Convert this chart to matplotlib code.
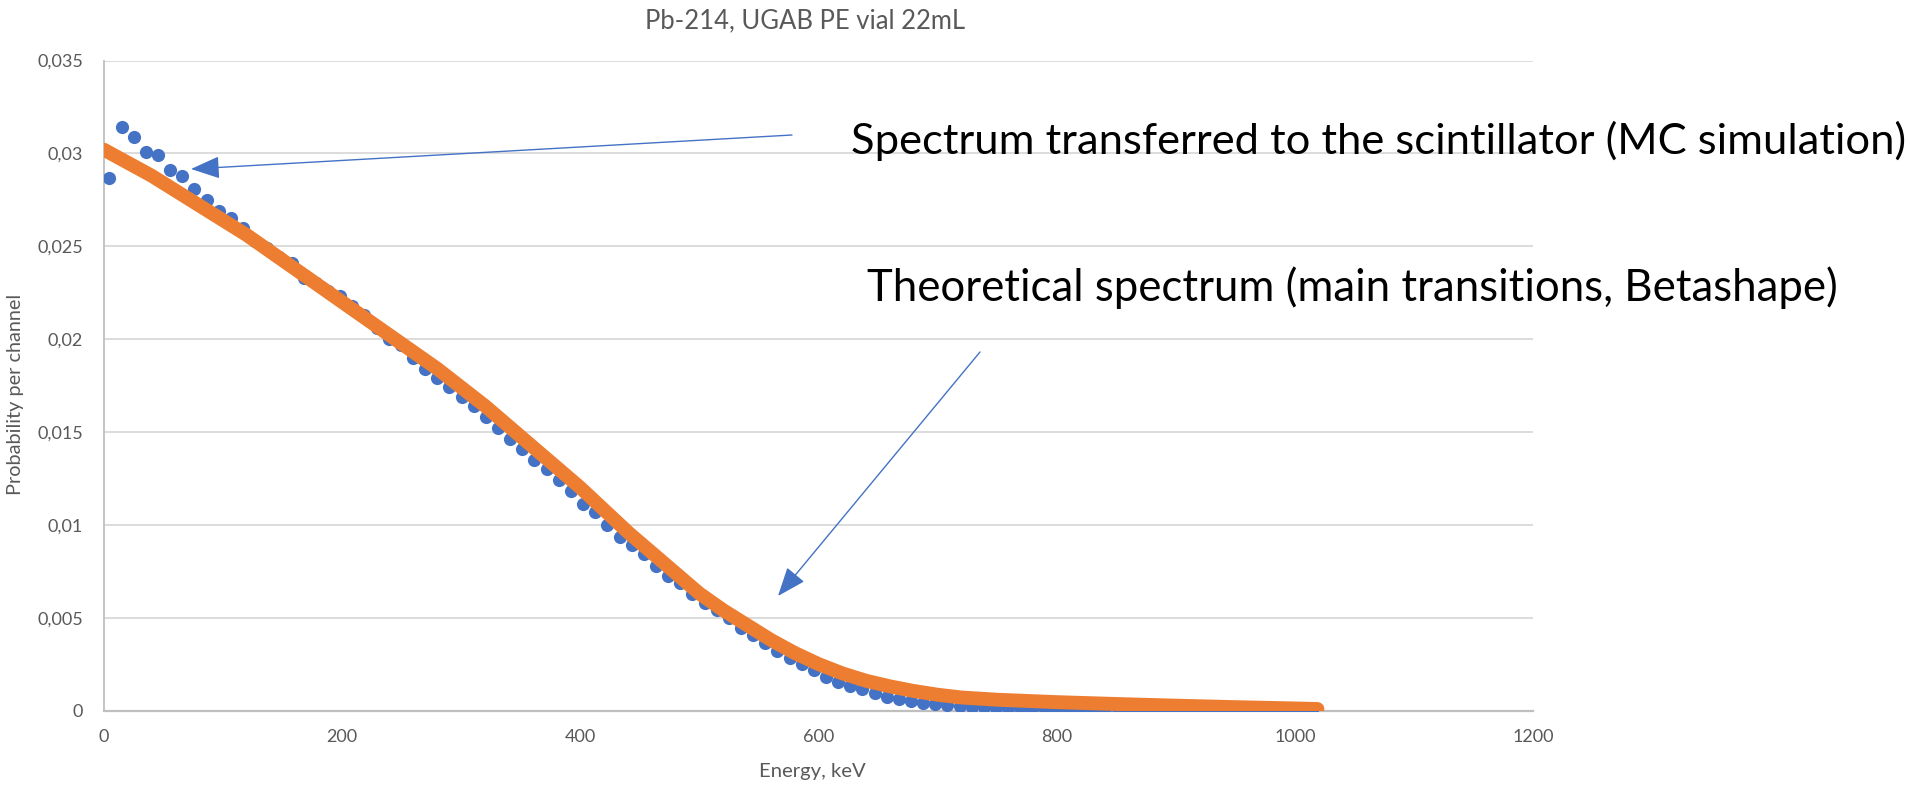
import matplotlib
matplotlib.use("Agg")
import matplotlib.pyplot as plt
from matplotlib.ticker import FuncFormatter, MultipleLocator
from matplotlib.patches import FancyArrowPatch

# ---------------- data ----------------
mc_energy = [4.5, 14.7, 24.9, 35.1, 45.3, 55.5, 65.7, 75.9, 86.1, 96.3,
             106.5, 116.7, 126.9, 137.1, 147.3, 157.5, 167.7, 177.9, 188.1, 198.3,
             208.5, 218.7, 228.9, 239.1, 249.3, 259.5, 269.7, 279.9, 290.1, 300.3,
             310.5, 320.7, 330.9, 341.1, 351.3, 361.5, 371.7, 381.9, 392.1, 402.3,
             412.5, 422.7, 432.9, 443.1, 453.3, 463.5, 473.7, 483.9, 494.1, 504.3,
             514.5, 524.7, 534.9, 545.1, 555.3, 565.5, 575.7, 585.9, 596.1, 606.3,
             616.5, 626.7, 636.9, 647.1, 657.3, 667.5, 677.7, 687.9, 698.1, 708.3,
             718.5, 728.7, 738.9, 749.1, 759.3, 769.5, 779.7, 789.9, 800.1, 810.3,
             820.5, 830.7, 840.9, 851.1, 861.3, 871.5, 881.7, 891.9, 902.1, 912.3,
             922.5, 932.7, 942.9, 953.1, 963.3, 973.5, 983.7, 993.9, 1004.1, 1014.3]
mc_prob = [0.0287, 0.0314, 0.0309, 0.0301, 0.0299, 0.0291, 0.0288, 0.0281, 0.0275, 0.0269,
           0.0265, 0.0260, 0.0253, 0.0249, 0.0244, 0.0241, 0.0233, 0.0230, 0.0226, 0.0223,
           0.0218, 0.0213, 0.0206, 0.0200, 0.0197, 0.0190, 0.0184, 0.0179, 0.0174, 0.0169,
           0.0164, 0.0158, 0.0152, 0.0146, 0.0141, 0.0135, 0.0130, 0.0124, 0.0118, 0.0111,
           0.0107, 0.0100, 0.00936, 0.00891, 0.00843, 0.00778, 0.00724, 0.00685, 0.00626, 0.00577,
           0.00541, 0.00496, 0.00446, 0.00407, 0.00362, 0.00322, 0.00281, 0.00250, 0.00218, 0.00182,
           0.00155, 0.00134, 0.00114, 0.00093, 0.00074, 0.00060, 0.00050, 0.00042, 0.00035, 0.00030,
           0.00024, 0.00020, 0.00017, 0.00013, 0.00012, 0.00011, 0.00010, 0.00010, 0.00009, 0.00009,
           0.00008, 0.00008, 0.00007, 0.00007, 0.00007, 0.00006, 0.00006, 0.00006, 0.00005, 0.00005,
           0.00005, 0.00004, 0.00004, 0.00004, 0.00004, 0.00003, 0.00003, 0.00003, 0.00003, 0.00002]

th_energy = [0, 20, 40, 60, 80, 100, 120, 140, 160, 180,
             200, 220, 240, 260, 280, 300, 320, 340, 360, 380,
             400, 420, 440, 460, 480, 500, 520, 540, 560, 580,
             600, 620, 640, 660, 680, 700, 720, 750, 800, 850,
             900, 950, 1000, 1019]
th_prob = [0.0302, 0.0295, 0.0288, 0.0280, 0.0272, 0.0264, 0.0256, 0.0247, 0.0238, 0.0229,
           0.0220, 0.0211, 0.0202, 0.0193, 0.0184, 0.0174, 0.0164, 0.0153, 0.0142, 0.0131,
           0.0120, 0.0108, 0.0096, 0.0085, 0.0074, 0.0063, 0.0054, 0.0046, 0.0038, 0.0031,
           0.0025, 0.0020, 0.0016, 0.0013, 0.00105, 0.00085, 0.0007, 0.00058, 0.00045, 0.00035,
           0.00026, 0.00018, 0.00011, 0.00008]

title = "Pb-214, UGAB PE vial 22mL"
xlabel = "Energy, keV"
ylabel = "Probability per channel"
note_mc = "Spectrum transferred to the scintillator (MC simulation)"
note_th = "Theoretical spectrum (main transitions, Betashape)"

# ---------------- figure ----------------
W, H = 1910, 787
DPI = 100
plt.rcParams['font.family'] = ['Lato', 'DejaVu Sans']
fig = plt.figure(figsize=(W / DPI, H / DPI), dpi=DPI)
fig.patch.set_facecolor('white')

L, R, B, T = 104, 1533, 710.5, 60.6
ax = fig.add_axes([L / W, 1 - B / H, (R - L) / W, (B - T) / H])

BLUE = '#4472C4'
ORANGE = '#ED7D31'
GRAY_TXT = '#595959'

ax.scatter(mc_energy, mc_prob, s=90, color=BLUE, zorder=3, linewidths=0)
ax.plot(th_energy, th_prob, color=ORANGE, lw=10, solid_capstyle='round',
        solid_joinstyle='round', zorder=4)

ax.set_xlim(0, 1200)
ax.set_ylim(0, 0.035)
ax.xaxis.set_major_locator(MultipleLocator(200))
ax.yaxis.set_major_locator(MultipleLocator(0.005))


def comma_fmt(v, pos):
    if abs(v) < 1e-12:
        return "0"
    return ("%g" % round(v, 4)).replace('.', ',')


ax.yaxis.set_major_formatter(FuncFormatter(comma_fmt))
ax.xaxis.set_major_formatter(FuncFormatter(lambda v, p: "%d" % round(v)))
ax.grid(axis='y', color='#D9D9D9', lw=1.3)
ax.set_axisbelow(True)
for s in ['top', 'right']:
    ax.spines[s].set_visible(False)
ax.spines['bottom'].set_color('#BFBFBF')
ax.spines['bottom'].set_linewidth(1.6)
ax.spines['left'].set_color('#BFBFBF')
ax.spines['left'].set_linewidth(1.3)
ax.tick_params(axis='both', length=0, labelsize=15, colors=GRAY_TXT)
ax.tick_params(axis='y', pad=15)
ax.tick_params(axis='x', pad=13)

ttl = fig.text(805 / W, 1 - 28 / H, title, ha='center', va='baseline', fontsize=20, color=GRAY_TXT)
xl = fig.text(812 / W, 1 - 771 / H, xlabel, ha='center', va='center', fontsize=13, color=GRAY_TXT)
yl = fig.text(16 / W, 1 - 394 / H, ylabel, ha='center', va='center', rotation=90,
              fontsize=13, color=GRAY_TXT)

t1 = fig.text(851 / W, 1 - 154 / H, note_mc, ha='left', va='baseline', fontsize=30, color='black')
t2 = fig.text(867 / W, 1 - 301 / H, note_th, ha='left', va='baseline', fontsize=30, color='black')

# fit text sizes to the reference widths (px)
renderer = fig.canvas.get_renderer()
for t, target, vertical in [(t1, 1052, False), (t2, 970, False), (ttl, 320, False),
                            (xl, 106, False), (yl, 201, True)]:
    ext = t.get_window_extent(renderer)
    w = ext.height if vertical else ext.width
    t.set_fontsize(t.get_fontsize() * target / w)

# tick label size from the width of "0,035" (~46 px)
fig.canvas.draw()
lab = [l for l in ax.get_yticklabels() if l.get_text() == "0,035"][0]
scale = 46 / lab.get_window_extent(renderer).width
ax.tick_params(axis='both', labelsize=15 * scale)

# arrows
arrow_kw = dict(arrowstyle='-|>,head_length=0.9,head_width=0.35', color=BLUE, lw=1.0,
                shrinkA=0, shrinkB=0, mutation_scale=20, transform=fig.transFigure)
fig.add_artist(FancyArrowPatch((792 / W, 1 - 135 / H), (191 / W, 1 - 169 / H), **arrow_kw))
fig.add_artist(FancyArrowPatch((980 / W, 1 - 352 / H), (778 / W, 1 - 596 / H), **arrow_kw))

fig.savefig('out.png', dpi=DPI, facecolor='white')
